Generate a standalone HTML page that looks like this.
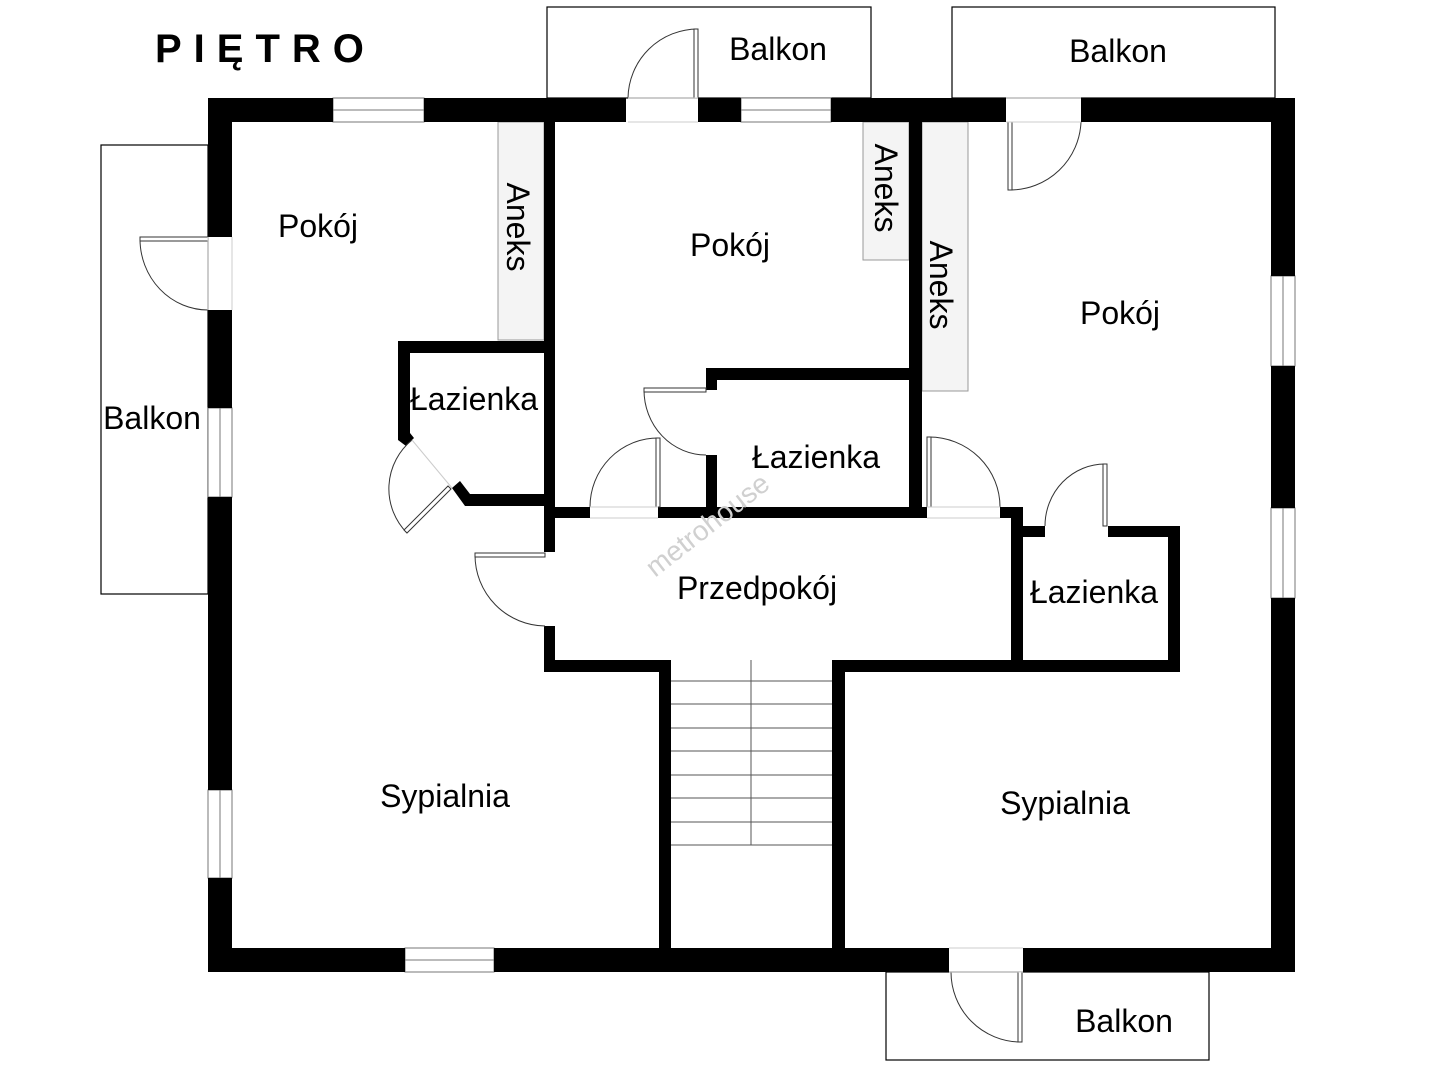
<!DOCTYPE html>
<html><head><meta charset="utf-8"><style>
html,body{margin:0;padding:0;background:#fff;}
svg{display:block;}
text{font-family:"Liberation Sans",sans-serif;fill:#000;}
</style></head><body>
<svg width="1440" height="1080" viewBox="0 0 1440 1080" xmlns="http://www.w3.org/2000/svg">
<rect width="1440" height="1080" fill="#fff"/>
<g fill="none" stroke="#000" stroke-width="1.2">
<rect x="547" y="7" width="324" height="91"/>
<rect x="952" y="7" width="323" height="91"/>
<rect x="101" y="145" width="107" height="449"/>
<rect x="886" y="972" width="323" height="88"/>
</g>
<g fill="#f4f4f4" stroke="#999" stroke-width="1">
<rect x="498" y="122" width="46" height="218"/>
<rect x="863" y="122" width="46" height="138"/>
<rect x="922" y="122" width="46" height="269"/>
</g>
<g stroke="#555" stroke-width="1" fill="none">
<line x1="751" y1="660" x2="751" y2="845"/>
<line x1="671" y1="681" x2="832" y2="681"/>
<line x1="671" y1="704" x2="832" y2="704"/>
<line x1="671" y1="728" x2="832" y2="728"/>
<line x1="671" y1="751" x2="832" y2="751"/>
<line x1="671" y1="775" x2="832" y2="775"/>
<line x1="671" y1="798" x2="832" y2="798"/>
<line x1="671" y1="822" x2="832" y2="822"/>
<line x1="671" y1="845" x2="832" y2="845"/>
</g>
<g fill="#fff" stroke="#777" stroke-width="1">
<rect x="333" y="98" width="91" height="24"/><line x1="333" y1="110" x2="424" y2="110"/>
<rect x="741" y="98" width="90" height="24"/><line x1="741" y1="110" x2="831" y2="110"/>
<rect x="208" y="408" width="24" height="89"/><line x1="220" y1="408" x2="220" y2="497"/>
<rect x="208" y="790" width="24" height="88"/><line x1="220" y1="790" x2="220" y2="878"/>
<rect x="1271" y="276" width="24" height="90"/><line x1="1283" y1="276" x2="1283" y2="366"/>
<rect x="1271" y="508" width="24" height="90"/><line x1="1283" y1="508" x2="1283" y2="598"/>
<rect x="405" y="948" width="89" height="24"/><line x1="405" y1="960" x2="494" y2="960"/>
</g>
<g fill="#000">
<rect x="208" y="98" width="125" height="24"/>
<rect x="424" y="98" width="202" height="24"/>
<rect x="698" y="98" width="43" height="24"/>
<rect x="831" y="98" width="175" height="24"/>
<rect x="1081" y="98" width="214" height="24"/>
<rect x="208" y="98" width="24" height="139"/>
<rect x="208" y="310" width="24" height="98"/>
<rect x="208" y="497" width="24" height="293"/>
<rect x="208" y="878" width="24" height="94"/>
<rect x="1271" y="98" width="24" height="178"/>
<rect x="1271" y="366" width="24" height="142"/>
<rect x="1271" y="598" width="24" height="374"/>
<rect x="208" y="948" width="197" height="24"/>
<rect x="494" y="948" width="455" height="24"/>
<rect x="1023" y="948" width="272" height="24"/>
<rect x="544" y="122" width="11" height="386"/>
<rect x="544" y="507" width="11" height="45"/>
<rect x="544" y="626" width="11" height="46"/>
<rect x="544" y="507" width="46" height="11"/>
<rect x="658" y="507" width="269" height="11"/>
<rect x="1000" y="507" width="23" height="11"/>
<rect x="706" y="368" width="11" height="22"/>
<rect x="706" y="455" width="11" height="63"/>
<rect x="706" y="368" width="216" height="12"/>
<rect x="909" y="122" width="13" height="396"/>
<rect x="1011" y="507" width="12" height="165"/>
<rect x="1011" y="526" width="34" height="11"/>
<rect x="1108" y="526" width="72" height="11"/>
<rect x="1168" y="526" width="12" height="146"/>
<rect x="544" y="660" width="127" height="12"/>
<rect x="832" y="660" width="348" height="12"/>
<rect x="659" y="660" width="12" height="288"/>
<rect x="832" y="660" width="13" height="288"/>
<rect x="398" y="341" width="146" height="12"/>
<rect x="398" y="341" width="12" height="94"/>
<polygon points="398,433 410,433 414,438 406,446 398,440"/>
<polygon points="452,488 460,481 470,494 544,494 544,506 465,506"/>
</g>
<g fill="none" stroke="#333" stroke-width="1">
<path d="M628,98 A70,70 0 0 1 698,29"/>
<rect x="694" y="29" width="4" height="69" fill="#fff"/>
<path d="M1010,190 A71,71 0 0 0 1081,122"/>
<rect x="1008" y="122" width="4" height="68" fill="#fff"/>
<path d="M140,239 A68,71 0 0 0 208,310"/>
<rect x="140" y="237" width="68" height="4" fill="#fff"/>
<path d="M951,972 A70,70 0 0 0 1020,1042"/>
<rect x="1018" y="972" width="4" height="70" fill="#fff"/>
<path d="M475,555 A71,71 0 0 0 545,626"/>
<rect x="475" y="553" width="70" height="4" fill="#fff"/>
<path d="M590,507 A68,69 0 0 1 658,438"/>
<rect x="656" y="438" width="4" height="69" fill="#fff"/>
<path d="M644,390 A62,65 0 0 0 706,455"/>
<rect x="644" y="388" width="62" height="4" fill="#fff"/>
<path d="M929,437 A71,70 0 0 1 1000,507"/>
<rect x="927" y="437" width="4" height="70" fill="#fff"/>
<path d="M1045,526 A60,62 0 0 1 1105,464"/>
<rect x="1103" y="464" width="4" height="62" fill="#fff"/>
<path d="M412,440 A63,63 0 0 0 407,533"/>
<polygon points="404,530 448,486 451,489 407,533" fill="#fff"/>
</g>
<g stroke="#ccc" stroke-width="1">
<line x1="628" y1="98" x2="698" y2="98"/><line x1="628" y1="122" x2="698" y2="122"/>
<line x1="1006" y1="98" x2="1081" y2="98"/><line x1="1006" y1="122" x2="1081" y2="122"/>
<line x1="208" y1="237" x2="208" y2="310"/><line x1="232" y1="237" x2="232" y2="310"/>
<line x1="949" y1="948" x2="1023" y2="948"/><line x1="949" y1="972" x2="1023" y2="972"/>
<line x1="590" y1="507" x2="658" y2="507"/><line x1="590" y1="518" x2="658" y2="518"/>
<line x1="927" y1="507" x2="1000" y2="507"/><line x1="927" y1="518" x2="1000" y2="518"/>
<line x1="412" y1="440" x2="452" y2="488"/>
</g>
<text x="0" y="0" font-size="28" style="fill:#d0d0d0" transform="translate(655,578) rotate(-38)">metrohouse</text>
<text x="155" y="62" font-size="40" font-weight="bold" letter-spacing="12">PIĘTRO</text>
<g font-size="32" text-anchor="middle">
<text x="318" y="237">Pokój</text>
<text x="730" y="256">Pokój</text>
<text x="1120" y="324">Pokój</text>
<text x="474" y="410">Łazienka</text>
<text x="816" y="468">Łazienka</text>
<text x="1094" y="603">Łazienka</text>
<text x="757" y="599">Przedpokój</text>
<text x="445" y="807">Sypialnia</text>
<text x="1065" y="814">Sypialnia</text>
<text x="152" y="429">Balkon</text>
<text x="778" y="60">Balkon</text>
<text x="1118" y="62">Balkon</text>
<text x="1124" y="1032">Balkon</text>
<text transform="translate(507,227) rotate(90)">Aneks</text>
<text transform="translate(875,188) rotate(90)">Aneks</text>
<text transform="translate(930,285) rotate(90)">Aneks</text>
</g>
</svg>
</body></html>
